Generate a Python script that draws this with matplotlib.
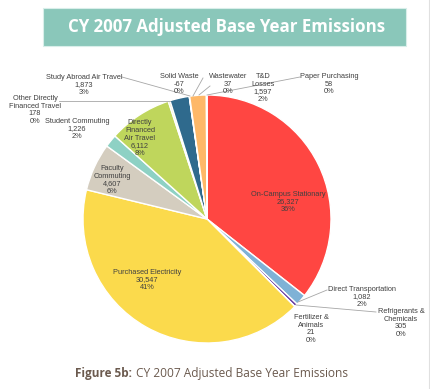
import matplotlib.pyplot as plt
from matplotlib.patches import Rectangle

# slice data, clockwise from 12 o'clock
names = ['On-Campus Stationary', 'Direct Transportation', 'Refrigerants &\nChemicals',
         'Fertilizer &\nAnimals', 'Purchased Electricity', 'Faculty\nCommuting',
         'Student Commuting', 'Directly\nFinanced\nAir Travel', 'Other Directly\nFinanced Travel',
         'Study Abroad Air Travel', 'Solid Waste', 'Wastewater', 'T&D\nLosses', 'Paper Purchasing']
values = [26327, 1082, 305, 21, 30547, 4607, 1226, 6112, 178, 1873, -67, 37, 1597, 58]
value_labels = ['26,327', '1,082', '305', '21', '30,547', '4,607', '1,226', '6,112',
                '178', '1,873', '-67', '37', '1,597', '58']
pct_labels = ['36%', '2%', '0%', '0%', '41%', '6%', '2%', '8%', '0%', '3%', '0%', '0%', '2%', '0%']
colors = ['#FF4642', '#7FB2D6', '#6A3FA3', '#9A9A9A', '#FBDA4C', '#D4CDBF', '#8ED1C4',
          '#BFD65C', '#F0E6A2', '#2F6A8D', '#CCCCCC', '#C8C8C8', '#FEB868', '#D8D8D8']

W, H = 430, 389
fig = plt.figure(figsize=(W / 100, H / 100), dpi=100)
ax = fig.add_axes([0, 0, 1, 1])

def py(y):
    # pixel row (top down) -> axes y
    return H - y

# title banner
ax.add_patch(Rectangle((43, py(46)), 363, 38, facecolor='#8AC7BA', edgecolor='#D9EEEA', lw=0.8))
ax.text(227, py(27), 'CY 2007 Adjusted Base Year Emissions', ha='center', va='center',
        fontsize=12.2, fontweight='bold', color='white', family='Open Sans')

# right edge rule
ax.plot([428.5, 428.5], [0, H], color='#E0E0E0', lw=0.8)

draw_vals = [max(v, 0) for v in values]
ax.pie(draw_vals, colors=colors, startangle=90, counterclock=False,
       center=(207, py(219)), radius=124, frame=True,
       wedgeprops=dict(edgecolor='white', linewidth=1.0))
ax.set_xlim(0, W)
ax.set_ylim(0, H)
ax.set_aspect('equal')
ax.axis('off')

# label placement (pixel coords) and leader lines
label_pos = {
    0: (288, 202), 1: (362, 297), 2: (401, 323), 3: (311, 329), 4: (147, 280),
    5: (112, 180), 6: (77, 129), 7: (140, 138), 8: (35, 110), 9: (84, 85),
    10: (179, 84), 11: (228, 84), 12: (263, 88), 13: (329, 84),
}
leaders = {
    1: [(327, 290), (298, 302)],
    2: [(376, 312), (296, 305)],
    8: [(59, 101), (170, 101)],
    9: [(122, 77), (190, 96)],
    10: [(203, 78), (193, 96)],
    11: [(210, 86), (199, 95)],
    13: [(300, 77), (207, 95)],
}
for i, pts in leaders.items():
    ax.plot([p[0] for p in pts], [py(p[1]) for p in pts], color='#A6A6A6', lw=0.6)

for i, name in enumerate(names):
    x, y = label_pos[i]
    ax.text(x, py(y), f'{name}\n{value_labels[i]}\n{pct_labels[i]}', ha='center', va='center',
            fontsize=5.3, color='#404040', family='Liberation Sans', linespacing=1.12)

# caption
ax.text(75, py(373), 'Figure 5b:', ha='left', va='center', fontsize=8.5,
        color='#6B5A4E', fontweight='bold', family='Open Sans')
ax.text(136, py(373), 'CY 2007 Adjusted Base Year Emissions', ha='left', va='center',
        fontsize=8.6, color='#6B5A4E', family='Open Sans')

fig.savefig('out.png', dpi=100, facecolor='white')
